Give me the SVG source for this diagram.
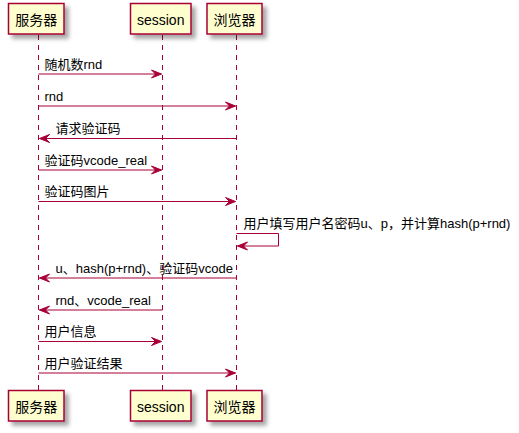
<svg xmlns="http://www.w3.org/2000/svg" width="519" height="433" viewBox="0 0 519 433">
<style>
text{font-family:"Liberation Sans","Noto Sans CJK SC",sans-serif;fill:#000}
.pt{font-size:14px;text-anchor:middle}
.mt{font-size:13px}
.box{fill:#FEFECE;stroke:#A80036;stroke-width:1.5;filter:url(#sh)}
.life{stroke:#A80036;stroke-width:1;stroke-dasharray:5,5;fill:none}
.ln{stroke:#A80036;stroke-width:1;fill:none}
.ah{fill:#A80036;stroke:#A80036;stroke-width:1}
</style>
<defs>
<filter id="sh" x="-20%" y="-20%" width="150%" height="160%">
<feGaussianBlur in="SourceAlpha" stdDeviation="2"/>
<feOffset dx="4" dy="4" result="b"/>
<feFlood flood-color="#000" flood-opacity="0.35"/>
<feComposite in2="b" operator="in"/>
<feMerge><feMergeNode/><feMergeNode in="SourceGraphic"/></feMerge>
</filter>
</defs>
<g id="lifelines">
<line class="life" x1="38.5" y1="35" x2="38.5" y2="390"/>
<line class="life" x1="162.5" y1="35" x2="162.5" y2="390"/>
<line class="life" x1="236.5" y1="35" x2="236.5" y2="390"/>
</g>
<g id="p-server">
<rect class="box" x="8.5" y="3.5" width="55.5" height="30.5"/>
<text class="pt" x="36.2" y="25">服务器</text>
<rect class="box" x="8.5" y="390.5" width="55.5" height="30.5"/>
<text class="pt" x="36.2" y="412">服务器</text>
</g>
<g id="p-session">
<rect class="box" x="130.5" y="3.5" width="60.5" height="30.5"/>
<text class="pt" x="160.7" y="25">session</text>
<rect class="box" x="130.5" y="390.5" width="60.5" height="30.5"/>
<text class="pt" x="160.7" y="412">session</text>
</g>
<g id="p-browser">
<rect class="box" x="207" y="3.5" width="55" height="30.5"/>
<text class="pt" x="234.5" y="25">浏览器</text>
<rect class="box" x="207" y="390.5" width="55" height="30.5"/>
<text class="pt" x="234.5" y="412">浏览器</text>
</g>
<g id="connectors">
<line class="ln" x1="38.5" y1="74" x2="161.5" y2="74"/>
<polygon class="ah" points="151.5,70 161.5,74 151.5,78 155.5,74"/>
<text class="mt" x="44.5" y="68.5">随机数rnd</text>

<line class="ln" x1="38.5" y1="106" x2="235.5" y2="106"/>
<polygon class="ah" points="225.5,102 235.5,106 225.5,110 229.5,106"/>
<text class="mt" x="44.5" y="100.5">rnd</text>

<line class="ln" x1="39.5" y1="138.5" x2="236.5" y2="138.5"/>
<polygon class="ah" points="49.5,134.5 39.5,138.5 49.5,142.5 45.5,138.5"/>
<text class="mt" x="55.5" y="133">请求验证码</text>

<line class="ln" x1="38.5" y1="170" x2="161.5" y2="170"/>
<polygon class="ah" points="151.5,166 161.5,170 151.5,174 155.5,170"/>
<text class="mt" x="44.5" y="164.5">验证码vcode_real</text>

<line class="ln" x1="38.5" y1="201.5" x2="235.5" y2="201.5"/>
<polygon class="ah" points="225.5,197.5 235.5,201.5 225.5,205.5 229.5,201.5"/>
<text class="mt" x="44.5" y="196">验证码图片</text>

<polyline class="ln" points="236.5,233.5 278.5,233.5 278.5,246 237.5,246"/>
<polygon class="ah" points="247.5,242 237.5,246 247.5,250 243.5,246"/>
<text class="mt" x="243.5" y="227.5">用户填写用户名密码u、p，并计算hash(p+rnd)</text>

<line class="ln" x1="39.5" y1="278" x2="236.5" y2="278"/>
<polygon class="ah" points="49.5,274 39.5,278 49.5,282 45.5,278"/>
<text class="mt" x="55.5" y="272.5">u、hash(p+rnd)、验证码vcode</text>

<line class="ln" x1="39.5" y1="310" x2="162.5" y2="310"/>
<polygon class="ah" points="49.5,306 39.5,310 49.5,314 45.5,310"/>
<text class="mt" x="55.5" y="304.5">rnd、vcode_real</text>

<line class="ln" x1="38.5" y1="341.5" x2="161.5" y2="341.5"/>
<polygon class="ah" points="151.5,337.5 161.5,341.5 151.5,345.5 155.5,341.5"/>
<text class="mt" x="44.5" y="336">用户信息</text>

<line class="ln" x1="38.5" y1="373" x2="235.5" y2="373"/>
<polygon class="ah" points="225.5,369 235.5,373 225.5,377 229.5,373"/>
<text class="mt" x="44.5" y="367.5">用户验证结果</text>
</g>
</svg>
